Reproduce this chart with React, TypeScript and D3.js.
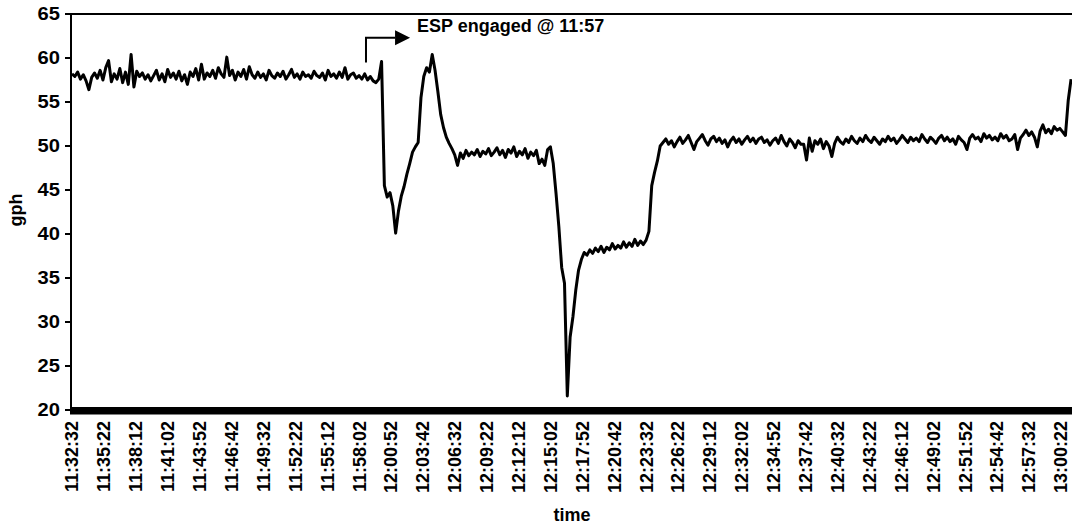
import React from 'react';
import * as d3 from 'd3';

// sampling of the recorded series (seconds after 11:32:32)
const sampleSeconds = 15;
const spanSeconds = 5330;
const tickStepSeconds = 170;

const tickLabels = [
  '11:32:32', '11:35:22', '11:38:12', '11:41:02', '11:43:52', '11:46:42', '11:49:32', '11:52:22',
  '11:55:12', '11:58:02', '12:00:52', '12:03:42', '12:06:32', '12:09:22', '12:12:12', '12:15:02',
  '12:17:52', '12:20:42', '12:23:32', '12:26:22', '12:29:12', '12:32:02', '12:34:52', '12:37:42',
  '12:40:32', '12:43:22', '12:46:12', '12:49:02', '12:51:52', '12:54:42', '12:57:32', '13:00:22',
];

const yTicks = [20, 25, 30, 35, 40, 45, 50, 55, 60, 65];

const gphValues = [
  // 0-109 before ESP
  58.2, 57.9, 58.4, 57.6, 58.1, 57.4, 56.4, 57.8, 58.3, 57.7,
  58.6, 57.5, 58.9, 59.7, 57.3, 58.2, 57.6, 58.8, 57.2, 58.4,
  57.0, 60.4, 56.7, 58.5, 57.9, 58.3, 57.6, 58.1, 57.4, 58.0,
  58.6, 57.5, 58.2, 57.3, 58.7, 57.8, 58.3, 57.6, 58.5, 57.4,
  58.1, 57.0, 58.4, 57.9, 58.8, 57.5, 59.3, 57.6, 58.3, 57.9,
  58.6, 57.7, 58.9, 58.2, 57.8, 60.1, 58.0, 58.6, 57.5, 58.4,
  57.9, 58.7, 57.6, 59.0, 58.1, 57.7, 58.4, 57.8, 58.2, 57.5,
  58.6, 58.0, 57.7, 58.3, 57.9, 58.5, 57.6, 58.1, 58.7, 57.8,
  58.2, 57.6, 58.4, 57.9, 58.1, 57.7, 58.5, 58.0, 57.8, 58.3,
  57.5, 58.6, 57.9, 58.2, 57.7, 58.4, 57.8, 58.9, 57.6, 58.1,
  58.3, 57.7, 58.0, 57.6, 58.2, 57.5, 57.9, 57.4, 57.2, 57.6,
  // 110-137 first transient
  59.6, 45.5, 44.2, 44.7, 43.2, 40.1, 42.6, 44.3, 45.4, 46.8,
  48.0, 49.3, 49.9, 50.4, 55.5, 57.9, 58.9, 58.4, 60.4, 58.6,
  56.2, 53.6, 52.1, 51.0, 50.3, 49.7, 49.0, 47.8,
  // 138-168 plateau
  49.2, 48.6, 49.5, 48.9, 49.3, 49.0, 49.6, 48.8, 49.4, 49.1,
  49.7, 48.9, 49.3, 49.8, 49.0, 49.5, 48.7, 49.6, 49.2, 49.9,
  48.8, 49.4, 49.0, 49.7, 48.6, 49.3, 48.9, 49.5, 48.0, 48.5, 47.8,
  // 169-209 second transient
  49.6, 49.9, 48.0, 44.6, 40.8, 36.2, 34.4, 21.6, 28.3, 30.6,
  33.6, 35.9, 37.1, 37.9,
  37.6, 38.2, 37.8, 38.4, 38.0, 38.6, 37.9, 38.5, 38.2, 38.9,
  38.3, 38.7, 38.4, 39.1, 38.5, 39.0, 38.6, 39.4, 38.7, 39.2,
  38.8, 39.3,
  40.3, 45.5, 47.0, 48.3, 50.0,
  // 210-355 final plateau
  50.4, 50.8, 50.2, 50.6, 49.9, 50.5, 51.0, 50.3, 50.7, 51.2,
  50.4, 49.6, 50.5, 50.9, 51.3, 50.6, 50.1, 50.8, 51.1, 50.5,
  50.9, 50.3, 50.7, 49.9, 50.6, 51.0, 50.4, 50.8, 50.2, 50.7,
  51.1, 50.5, 50.9, 50.3, 50.8, 51.0, 50.4, 50.7, 50.1, 50.6,
  50.9, 50.3, 51.2, 50.5, 50.0, 50.8, 50.4, 49.8, 50.6, 50.2,
  50.2, 48.4, 50.9, 49.4, 50.6, 50.2, 50.8, 49.7, 50.5, 50.0,
  48.8, 50.3, 51.0, 50.5, 50.2, 50.8, 50.4, 51.1, 50.6, 50.3,
  50.9, 50.5, 51.2, 50.7, 50.4, 51.0, 50.6, 50.2, 50.8, 50.5,
  51.1, 50.6, 50.9, 50.3, 50.7, 51.2, 50.8, 50.4, 51.0, 50.6,
  50.9, 50.5, 51.3, 50.8, 50.4, 51.0, 50.7, 50.3, 50.9, 51.2,
  50.6, 51.0, 50.5, 50.8, 50.2, 51.1, 50.7, 50.4, 49.6, 50.9,
  51.3, 50.8, 51.0, 50.5, 51.4, 50.9, 51.2, 50.7, 51.0, 50.6,
  51.4, 50.9, 51.2, 50.6, 50.8, 51.3, 49.6, 50.9, 51.3, 51.8,
  51.2, 51.6, 51.0, 49.9, 51.7, 52.4, 51.5, 51.9, 51.4, 52.2,
  51.8, 52.0, 51.6, 51.2, 55.2, 57.6,
];

// annotation, in data units (seconds, gph)
const annotationText = 'ESP engaged @ 11:57';
const arrowTimes = [1567, 1567, 1722];
const arrowValues = [59.5, 62.3, 62.3];
const arrowTipTime = 1802;
const arrowHalfHeight = 0.85;
const annotationTextTime = 1839;
const annotationTextValue = 63.0;

const W = 1072;
const H = 524;
const M = { left: 72, right: 0, top: 14, bottom: 114 };
const FONT = "'Liberation Sans', Arial, Helvetica, sans-serif";

export default function App() {
  const x = d3.scaleLinear().domain([0, spanSeconds]).range([M.left, W - M.right]);
  const y = d3.scaleLinear().domain([20, 65]).range([H - M.bottom, M.top]);

  const line = d3
    .line<number>()
    .x((_, i) => x(i * sampleSeconds))
    .y((d) => y(d));

  const arrowPath = d3.line<number>()
    .x((_, i) => x(arrowTimes[i]))
    .y((d) => y(d))(arrowValues);

  const headBaseX = x(arrowTimes[2]);
  const headTipX = x(arrowTipTime);
  const headY = y(arrowValues[2]);
  const headTop = y(arrowValues[2] + arrowHalfHeight);
  const headBot = y(arrowValues[2] - arrowHalfHeight);

  return (
    <svg
      width={W}
      height={H}
      style={{ position: 'absolute', left: 0, top: 0, background: '#fff' }}
      fontFamily={FONT}
    >
      <rect x={0} y={0} width={W} height={H} fill="#fff" />
      {/* top border */}
      <line x1={65} x2={W} y1={y(65)} y2={y(65)} stroke="#000" strokeWidth={2} />
      {/* y axis */}
      <line x1={71} x2={71} y1={y(65)} y2={y(20)} stroke="#000" strokeWidth={2} />
      {yTicks.map((t) => (
        <g key={t}>
          <line x1={65} x2={71} y1={y(t)} y2={y(t)} stroke="#000" strokeWidth={2} />
          <text
            transform={`translate(60,${y(t)}) scale(1.12,1)`}
            dy="0.36em"
            textAnchor="end"
            fontSize={18}
            fontWeight="bold"
            fill="#000"
          >
            {t}
          </text>
        </g>
      ))}
      {/* data line */}
      <path
        d={line(gphValues) || ''}
        fill="none"
        stroke="#000"
        strokeWidth={3}
        strokeLinejoin="round"
      />
      {/* thick x axis bar */}
      <rect x={70} y={y(20) - 3} width={W - 70} height={7.5} fill="#000" />
      {/* x tick labels */}
      {tickLabels.map((lab, i) => (
        <text
          key={lab}
          transform={`translate(${x(i * tickStepSeconds)},${y(20) + 11}) rotate(-90)`}
          dy="0.36em"
          textAnchor="end"
          fontSize={18}
          fontWeight="bold"
          fill="#000"
        >
          {lab}
        </text>
      ))}
      {/* axis titles */}
      <text x={572} y={521} textAnchor="middle" fontSize={18} fontWeight="bold" fill="#000">
        time
      </text>
      <text
        transform={`translate(22,210) rotate(-90)`}
        textAnchor="middle"
        fontSize={18}
        fontWeight="bold"
        fill="#000"
      >
        gph
      </text>
      {/* annotation */}
      <path d={arrowPath || ''} fill="none" stroke="#000" strokeWidth={2} />
      <polygon
        points={`${headBaseX},${headTop} ${headTipX},${headY} ${headBaseX},${headBot}`}
        fill="#000"
      />
      <text
        x={x(annotationTextTime)}
        y={y(annotationTextValue)}
        fontSize={18}
        fontWeight="bold"
        fill="#000"
      >
        {annotationText}
      </text>
    </svg>
  );
}
